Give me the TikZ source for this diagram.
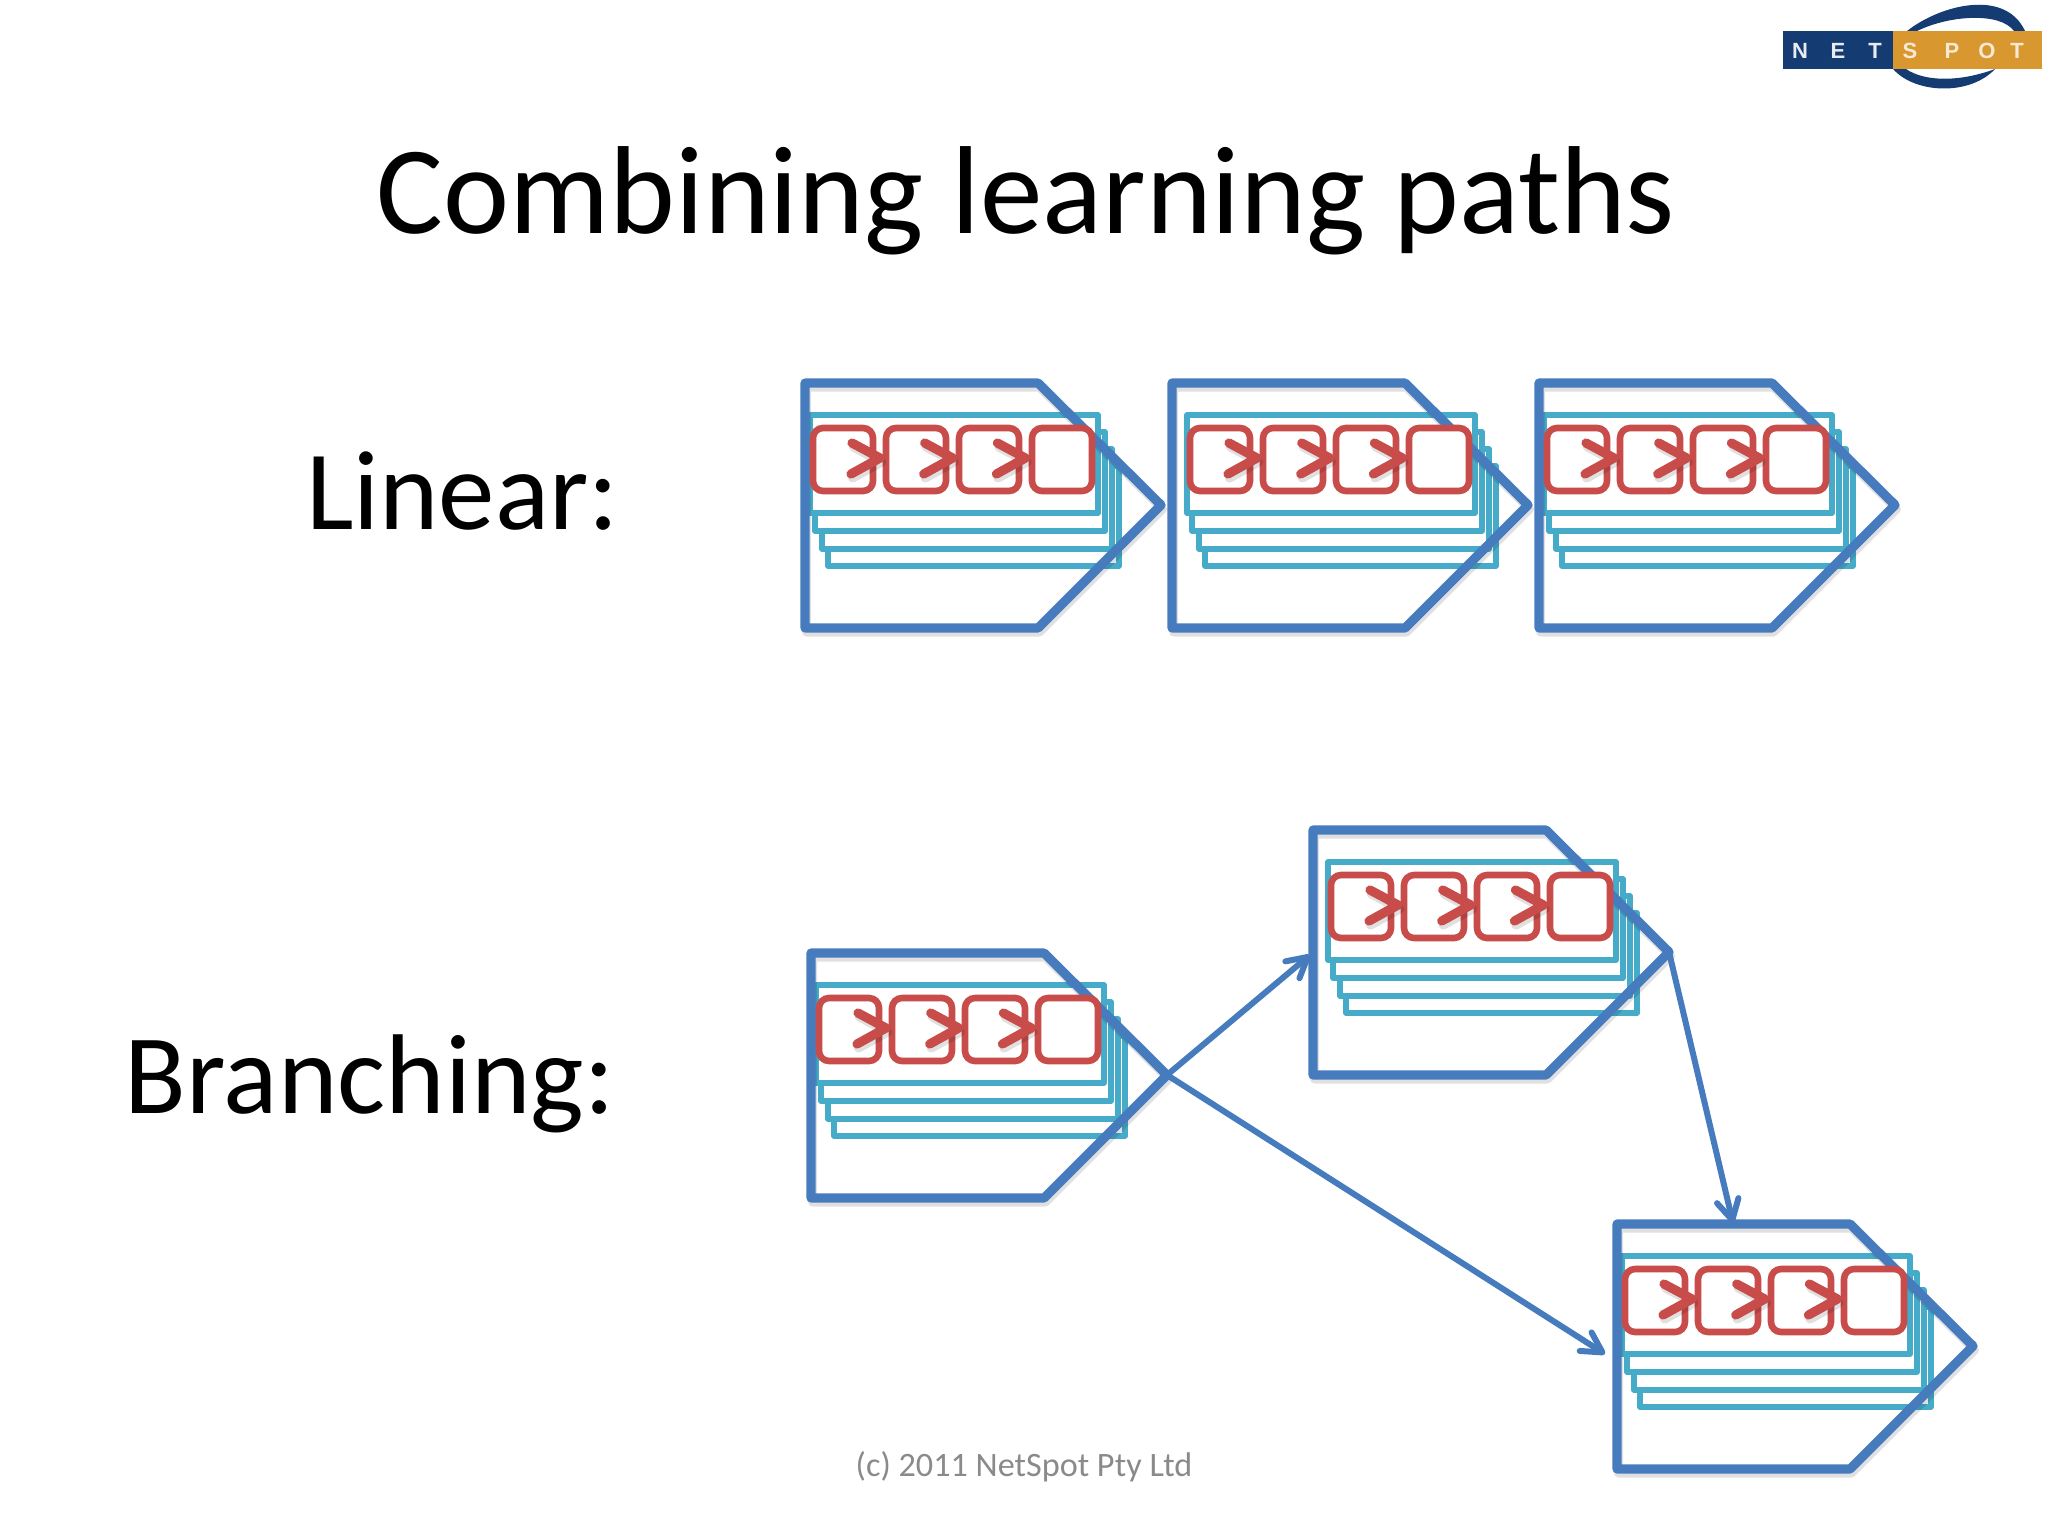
\documentclass[tikz,border=0pt]{standalone}
\usepackage{fontspec}
\setmainfont{Carlito}
\newfontfamily\logofont{Liberation Sans}
\usetikzlibrary{arrows.meta}
\definecolor{pathblue}{HTML}{467CBE}
\definecolor{stackcyan}{HTML}{45ABC8}
\definecolor{stepred}{HTML}{C84C4A}
\definecolor{logonavy}{HTML}{143C73}
\definecolor{logogold}{HTML}{D8982F}
\tikzset{
  halo/.style={black,opacity=.12,line join=round,line cap=round,shift={(1.5,4)}},
  outline/.style={pathblue,line width=4.6pt,line join=round},
  stacked/.style={stackcyan,line width=2.6pt,line join=round,fill=white},
  stepbox/.style={stepred,line width=3.3pt,fill=white,rounded corners=5pt},
  chevron/.style={stepred,line width=4.6pt,line cap=round,line join=round},
  link/.style={pathblue,line width=3pt,line cap=round,-{Straight Barb[length=10pt,width=11pt,round]}},
  pics/lesson/.style={code={
    % cards, back to front
    \draw[stacked] ({#1+23},83) rectangle ({#1+314},183);
    \draw[stacked] ({#1+17},66) rectangle ({#1+307},166);
    \draw[stacked] ({#1+10},49) rectangle ({#1+300},148);
    \draw[stacked] ({#1+5},32) rectangle ({#1+293},130);
    \draw[halo,line width=4.5pt] (0,0) -- (233,0) -- (356,122) -- (233,245) -- (0,245) -- cycle;
    \draw[outline] (0,0) -- (233,0) -- (356,122) -- (233,245) -- (0,245) -- cycle;
    \foreach \i in {0,...,3}
      \draw[stepbox] ({#1+8+73*\i},45) rectangle ++(60,63);
    \foreach \i in {0,1,2} {
      \draw[halo,line width=4.6pt] ({#1+47+72.7*\i},60) -- ({#1+75+72.7*\i},75) -- ({#1+46+72.7*\i},91);
      \draw[chevron] ({#1+47+72.7*\i},60) -- ({#1+75+72.7*\i},75) -- ({#1+46+72.7*\i},91);
    }
    \coordinate (-tip) at (356,122);
  }}
}
\begin{document}
\begin{tikzpicture}[x=.5pt,y=-.5pt]
  \useasboundingbox (0,0) rectangle (2048,1536);

  % logo
  \fill[logonavy] (1907,31) .. controls (1940,5) and (2005,-12) .. (2025,31)
    -- (2014,31) .. controls (2000,12) and (1950,15) .. (1917,31) -- cycle;
  \fill[logonavy] (1893,69) .. controls (1915,94) and (1970,96) .. (1995,69)
    .. controls (1960,82) and (1925,82) .. (1906,69) -- cycle;
  \node[fill=logonavy,minimum width=55pt,minimum height=19pt,inner sep=0pt] (logoL) at (1838,50) {};
  \node[fill=logogold,minimum width=74.5pt,minimum height=19pt,inner sep=0pt] (logoR) at (1967.5,50) {};
  \foreach \x/\c [count=\n] in {1800/N,1838/E,1875/T}
    \node[text=white!90!logonavy,font=\logofont\bfseries\fontsize{11}{11}\selectfont] (logoA\n) at (\x,51) {\c};
  \foreach \x/\c [count=\n] in {1910/S,1952/P,1987/O,2017/T}
    \node[text=white!80!logogold,font=\logofont\bfseries\fontsize{11}{11}\selectfont] (logoB\n) at (\x,51) {\c};

  % texts
  \node[anchor=base,inner sep=0pt,font=\fontsize{62.6}{70}\selectfont] (title) at (1026,233) {Combining learning paths};
  \node[anchor=base east,inner sep=0pt,font=\fontsize{56.5}{64}\selectfont] (linear) at (619.5,529) {Linear:};
  \node[anchor=base east,inner sep=0pt,font=\fontsize{56.7}{64}\selectfont] (branching) at (615,1113) {Branching:};
  \node[anchor=base,inner sep=0pt,text=black!46,font=\fontsize{17.1}{20}\selectfont] (foot) at (1024,1476) {(c) 2011 NetSpot Pty Ltd};

  % linear
  \pic (lsnA) at (805,383) {lesson=0};
  \pic (lsnB) at (1172,383) {lesson=10};
  \pic (lsnC) at (1539,383) {lesson=0};

  % branching
  \pic (lsnD) at (811,953) {lesson=0};
  \pic (lsnE) at (1313,830) {lesson=10};
  \pic (lsnF) at (1617,1224) {lesson=0};

  \coordinate (inE) at (1310,955);
  \coordinate (inF) at (1605,1354);
  \coordinate (topF) at (1733,1223);
  \draw[link] (lsnD-tip) -- (inE);
  \draw[link] (lsnD-tip) -- (inF);
  \draw[link] (lsnE-tip) -- (topF);
\end{tikzpicture}
\end{document}
